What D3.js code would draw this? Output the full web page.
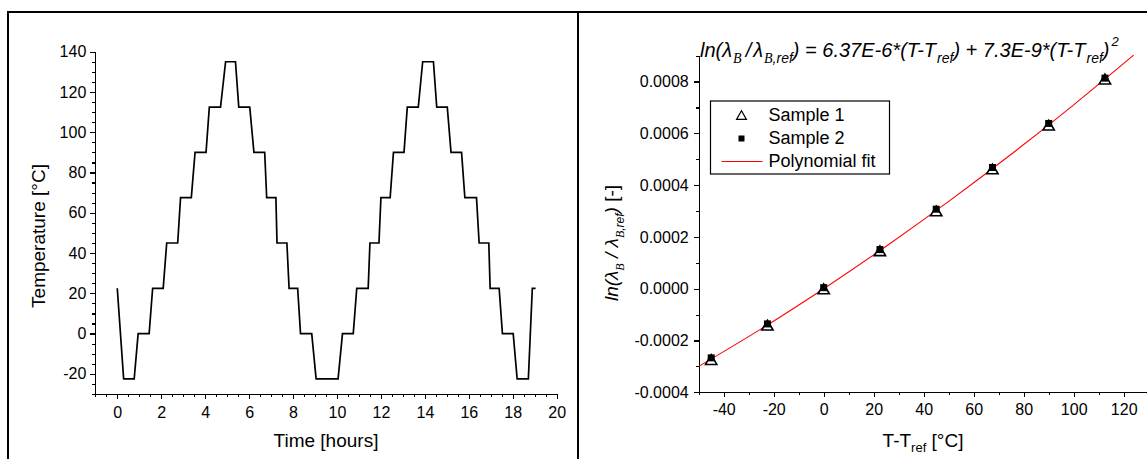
<!DOCTYPE html>
<html>
<head>
<meta charset="utf-8">
<script src="https://cdn.jsdelivr.net/npm/d3@7"></script>
<style>
  body { margin: 0; background: #fff; }
  svg { display: block; font-family: "Liberation Sans", Arial, sans-serif; }
  .axis path, .axis line { stroke: #000; stroke-width: 1.2; shape-rendering: crispEdges; }
  .axis text { font-size: 16px; fill: #000; font-family: "Liberation Sans", Arial, sans-serif; }
</style>
</head>
<body>
<figure style="margin:0"></figure>
<script>
// left panel: temperature cycle
const tempTime = [0, 0.29, 0.77, 0.95, 1.45, 1.61, 2.09, 2.25, 2.75, 2.88, 3.37, 3.54, 4.04, 4.19, 4.70, 4.93,
  5.38, 5.53, 6.03, 6.22, 6.71, 6.80, 7.22, 7.27, 7.72, 7.82, 8.21, 8.34, 8.85, 9.05, 10.05, 10.25, 10.74,
  10.90, 11.42, 11.50, 11.91, 12.00, 12.42, 12.57, 13.05, 13.20, 13.70, 13.90, 14.39, 14.54, 15.02, 15.19,
  15.67, 15.82, 16.35, 16.47, 16.91, 16.97, 17.38, 17.53, 18.02, 18.20, 18.71, 18.89, 19.04];
const tempValue = [22.5, -22.5, -22.5, 0, 0, 22.5, 22.5, 45, 45, 67.5, 67.5, 90, 90, 112.5, 112.5, 135,
  135, 112.5, 112.5, 90, 90, 67.5, 67.5, 45, 45, 22.5, 22.5, 0, 0, -22.5, -22.5, 0, 0,
  22.5, 22.5, 45, 45, 67.5, 67.5, 90, 90, 112.5, 112.5, 135, 135, 112.5, 112.5, 90,
  90, 67.5, 67.5, 45, 45, 22.5, 22.5, 0, 0, -22.5, -22.5, 22.5, 22.5];
const leftXTicks = [0, 2, 4, 6, 8, 10, 12, 14, 16, 18, 20];
const leftYTicks = [-20, 0, 20, 40, 60, 80, 100, 120, 140];

// right panel: wavelength shift
const deltaT = [-45, -22.5, 0, 22.5, 45, 67.5, 90, 112.5];
const sample1 = [-0.000276, -0.000143, -0.000003, 0.000144, 0.000298, 0.000460, 0.000629, 0.000807];
const sample2 = [-0.000267, -0.000136, 0.000004, 0.000151, 0.000307, 0.000468, 0.000638, 0.000813];
const fitX = [-50, -25, 0, 25, 50, 75, 100, 124];
const fitY = [-0.000300, -0.000155, 0, 0.000164, 0.000337, 0.000519, 0.000710, 0.000902];
const rightXTicks = [-40, -20, 0, 20, 40, 60, 80, 100, 120];
const rightYTicks = [-0.0004, -0.0002, 0, 0.0002, 0.0004, 0.0006, 0.0008];
const legendLabels = ["Sample 1", "Sample 2", "Polynomial fit"];

const width = 1147;
const height = 459;

const svg = d3.select("figure").append("svg")
  .attr("width", width)
  .attr("height", height);

// panel frames
svg.append("path")
  .attr("d", "M8,470 L8,12 L1160,12 M578,12 L578,470")
  .attr("fill", "none")
  .attr("stroke", "#000")
  .attr("stroke-width", 2);

// ---------- left chart ----------
const xL = d3.scaleLinear().domain([-1, 20]).range([95.3, 556.7]);
const yL = d3.scaleLinear().domain([-30, 140]).range([394, 51.7]);

const minor = (lo, hi, step, major) =>
  d3.range(lo, hi + step / 2, step).filter((v) => Math.abs(v / major - Math.round(v / major)) > 1e-6);

svg.append("g").attr("class", "axis")
  .attr("transform", `translate(0,${yL(-30)})`)
  .call(d3.axisBottom(xL).tickValues(minor(-1, 20, 0.5, 2)).tickSize(3).tickFormat("").tickSizeOuter(0));
svg.append("g").attr("class", "axis")
  .attr("transform", `translate(0,${yL(-30)})`)
  .call(d3.axisBottom(xL).tickValues(leftXTicks).tickSize(5).tickPadding(8).tickSizeOuter(0)
    .tickFormat((d) => String(d)));

svg.append("g").attr("class", "axis")
  .attr("transform", `translate(${xL(-1)},0)`)
  .call(d3.axisLeft(yL).tickValues(minor(-30, 140, 5, 20)).tickSize(3).tickFormat("").tickSizeOuter(0));
svg.append("g").attr("class", "axis")
  .attr("transform", `translate(${xL(-1)},0)`)
  .call(d3.axisLeft(yL).tickValues(leftYTicks).tickSize(5).tickPadding(4).tickSizeOuter(0)
    .tickFormat((d) => String(d)));

const tempLine = d3.line()
  .x((d, i) => xL(tempTime[i]))
  .y((d) => yL(d));

svg.append("path")
  .datum(tempValue)
  .attr("d", tempLine)
  .attr("fill", "none")
  .attr("stroke", "#000")
  .attr("stroke-width", 1.7)
  .attr("stroke-linejoin", "miter");

svg.append("text")
  .attr("x", 326)
  .attr("y", 447)
  .attr("text-anchor", "middle")
  .style("font-size", "19px")
  .text("Time [hours]");

svg.append("text")
  .attr("transform", "translate(45,236) rotate(-90)")
  .attr("text-anchor", "middle")
  .style("font-size", "19px")
  .text("Temperature [°C]");

// ---------- right chart ----------
const xR = d3.scaleLinear().domain([-50, 130]).range([698.7, 1148.7]);
const yR = d3.scaleLinear().domain([-0.0004, 0.0009]).range([392.3, 55.6]);

svg.append("g").attr("class", "axis")
  .attr("transform", `translate(0,${yR(-0.0004)})`)
  .call(d3.axisBottom(xR).tickValues(minor(-50, 130, 10, 20)).tickSize(3).tickFormat("").tickSizeOuter(0));
svg.append("g").attr("class", "axis")
  .attr("transform", `translate(0,${yR(-0.0004)})`)
  .call(d3.axisBottom(xR).tickValues(rightXTicks).tickSize(5).tickPadding(6).tickSizeOuter(0)
    .tickFormat((d) => String(d)));

svg.append("g").attr("class", "axis")
  .attr("transform", `translate(${xR(-50)},0)`)
  .call(d3.axisLeft(yR).tickValues(minor(-0.0004, 0.0009, 0.0001, 0.0002)).tickSize(3).tickFormat("").tickSizeOuter(0));
svg.append("g").attr("class", "axis")
  .attr("transform", `translate(${xR(-50)},0)`)
  .call(d3.axisLeft(yR).tickValues(rightYTicks).tickSize(5).tickPadding(5).tickSizeOuter(0)
    .tickFormat((d) => d.toFixed(4)));

const fitLine = d3.line()
  .x((d, i) => xR(fitX[i]))
  .y((d) => yR(d))
  .curve(d3.curveNatural);

svg.append("path")
  .datum(fitY)
  .attr("d", fitLine)
  .attr("fill", "none")
  .attr("stroke", "#ff0000")
  .attr("stroke-width", 1.1);

const tri = d3.symbol().type(d3.symbolTriangle).size(55);

svg.selectAll("path.s1")
  .data(sample1)
  .enter()
  .append("path")
  .attr("class", "s1")
  .attr("d", tri)
  .attr("transform", (d, i) => `translate(${xR(deltaT[i])},${yR(d) + 1})`)
  .attr("fill", "#fff")
  .attr("stroke", "#000")
  .attr("stroke-width", 1.6);

svg.selectAll("rect.s2")
  .data(sample2)
  .enter()
  .append("rect")
  .attr("class", "s2")
  .attr("x", (d, i) => xR(deltaT[i]) - 3.5)
  .attr("y", (d) => yR(d) - 3.5)
  .attr("width", 7)
  .attr("height", 7)
  .attr("fill", "#000");

// legend
const lg = svg.append("g").attr("transform", "translate(710.5,101)");
lg.append("rect")
  .attr("width", 179)
  .attr("height", 73)
  .attr("fill", "#fff")
  .attr("stroke", "#000")
  .attr("stroke-width", 1.2);
lg.append("path")
  .attr("d", d3.symbol().type(d3.symbolTriangle).size(42))
  .attr("transform", "translate(31,15.5)")
  .attr("fill", "#fff")
  .attr("stroke", "#000")
  .attr("stroke-width", 1.2);
lg.append("rect")
  .attr("x", 28)
  .attr("y", 34.5)
  .attr("width", 6)
  .attr("height", 6)
  .attr("fill", "#000");
lg.append("line")
  .attr("x1", 11).attr("x2", 52)
  .attr("y1", 60.5).attr("y2", 60.5)
  .attr("stroke", "#ff0000")
  .attr("stroke-width", 1.1);
lg.selectAll("text")
  .data(legendLabels)
  .enter()
  .append("text")
  .attr("x", 58)
  .attr("y", (d, i) => 20 + i * 22.8)
  .style("font-size", "18px")
  .text((d) => d);

// equation title
const eq = svg.append("text")
  .attr("x", 700)
  .attr("y", 57)
  .style("font-size", "20px")
  .style("font-style", "italic");
const sub = (t, serif) => eq.append("tspan").attr("dy", 6).attr("dx", 1).style("font-size", "14px")
  .style("font-family", serif ? "'Liberation Serif', serif" : null).text(t);
const up = (dx) => eq.append("tspan").attr("dy", -6).attr("dx", dx || 0);
eq.append("tspan").text("ln(λ");
sub("B", true);
up(4).text("/");
eq.append("tspan").attr("dx", 2).text("λ");
sub("B", true);
eq.append("tspan").style("font-size", "14px").text(",ref");
up().text(") = 6.37E-6*(T-T");
sub("ref");
up().text(") + 7.3E-9*(T-T");
sub("ref");
up().text(")");
eq.append("tspan").attr("dy", -11).attr("dx", 2).style("font-size", "13px").text("2");

// y title
const yt = svg.append("text")
  .attr("transform", "translate(618,243) rotate(-90)")
  .attr("text-anchor", "middle")
  .style("font-size", "19px");
yt.append("tspan").style("font-style", "italic").text("ln(λ");
yt.append("tspan").attr("dy", 6).style("font-size", "12px").style("font-style", "italic")
  .style("font-family", "'Liberation Serif', serif").text("B");
yt.append("tspan").attr("dy", -6).style("font-style", "italic").text(" / λ");
yt.append("tspan").attr("dy", 6).style("font-size", "12px").style("font-style", "italic")
  .style("font-family", "'Liberation Serif', serif").text("B");
yt.append("tspan").style("font-size", "12px").style("font-style", "italic").text(",ref");
yt.append("tspan").attr("dy", -6).style("font-style", "italic").text(")");
yt.append("tspan").text(" [-]");

// x title
const xt = svg.append("text")
  .attr("x", 923)
  .attr("y", 447)
  .attr("text-anchor", "middle")
  .style("font-size", "19px");
xt.append("tspan").text("T-T");
xt.append("tspan").attr("dy", 5).style("font-size", "13px").text("ref");
xt.append("tspan").attr("dy", -5).text(" [°C]");
</script>
</body>
</html>
